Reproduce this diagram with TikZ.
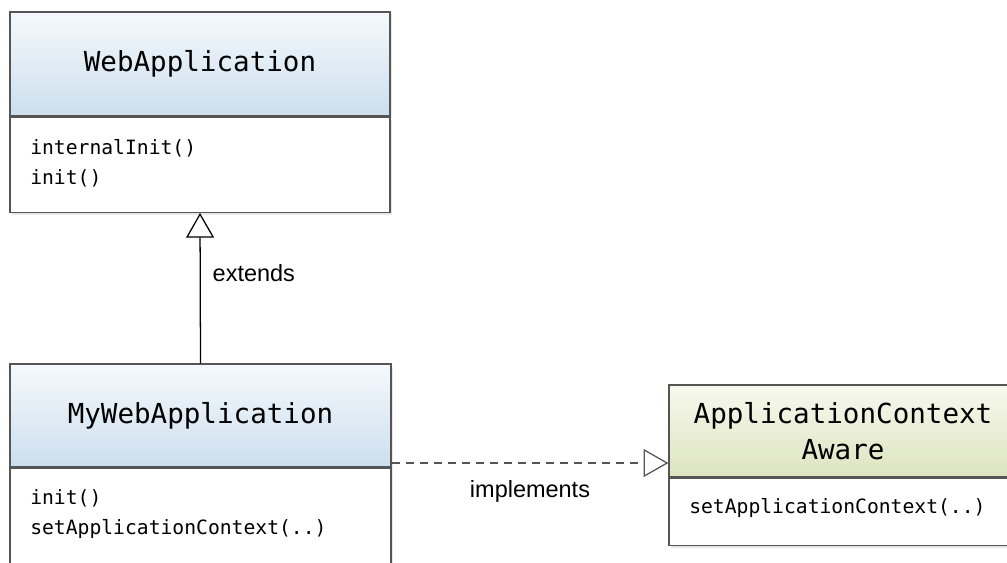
\documentclass[tikz,border=0pt]{standalone}
\usepackage{fontspec}
\setsansfont{Liberation Sans}
\setmonofont{DejaVu Sans Mono}
\usetikzlibrary{arrows.meta,shadows}

\definecolor{boxgray}{HTML}{555555}
\definecolor{bluetop}{HTML}{F5F9FD}
\definecolor{bluebot}{HTML}{CCDFED}
\definecolor{greentop}{HTML}{F7F9EE}
\definecolor{greenbot}{HTML}{DDE4BF}

\tikzset{
  classhead/.style={draw=boxgray, line width=0.9pt, inner sep=0pt, align=center,
    font=\ttfamily\fontsize{19.6}{26}\selectfont,
    drop shadow={opacity=0.18, shadow xshift=0.04cm, shadow yshift=-0.06cm}},
  classbody/.style={draw=boxgray, line width=0.9pt, fill=white, inner sep=0pt,
    drop shadow={opacity=0.18, shadow xshift=0.04cm, shadow yshift=-0.06cm}},
  methods/.style={anchor=west, align=left, inner sep=0pt,
    font=\ttfamily\fontsize{14}{21.3}\selectfont},
  relabel/.style={font=\sffamily\fontsize{16.7}{20}\selectfont},
  extends/.style={draw=black, line width=0.9pt,
    -{Triangle[open, length=0.62cm, width=0.7cm, line width=0.9pt]}},
  implements/.style={draw=boxgray, line width=0.9pt, dash pattern=on 0.2cm off 0.15cm,
    -{Triangle[open, length=0.62cm, width=0.7cm, line width=0.9pt, sep=0pt]}}
}

\begin{document}
\begin{tikzpicture}
  \useasboundingbox (0,0) rectangle (25.175,-14.05);
  \clip (0,0) rectangle (25.175,-14.05);

  % WebApplication class
  \node[classhead, top color=bluetop, bottom color=bluebot,
        minimum width=9.5cm, minimum height=2.6cm] (webhead) at (5,-1.6) {WebApplication};
  \node[classbody, minimum width=9.5cm, minimum height=2.375cm, anchor=north] (webbody) at (webhead.south) {};
  \node[methods] (webmeth) at (0.75,-4.075) {internalInit()\\init()};

  % MyWebApplication class (runs off the bottom)
  \node[classhead, top color=bluetop, bottom color=bluebot,
        minimum width=9.525cm, minimum height=2.575cm] (myhead) at (5.0125,-10.39) {MyWebApplication};
  \node[classbody, minimum width=9.525cm, minimum height=3.5cm, anchor=north] (mybody) at (myhead.south) {};
  \node[methods] (mymeth) at (0.75,-12.85) {init()\\setApplicationContext(..)};

  % ApplicationContextAware interface (runs off the right)
  \node[classhead, top color=greentop, bottom color=greenbot,
        minimum width=8.7cm, minimum height=2.3cm] (acahead) at (21.075,-10.775) {ApplicationContext\\Aware};
  \node[classbody, minimum width=8.7cm, minimum height=1.675cm, anchor=north] (acabody) at (acahead.south) {};
  \node[methods] (acameth) at (17.225,-12.7) {setApplicationContext(..)};

  % extends
  \draw[extends] (myhead.north) -- node[relabel, pos=0.6, right, xshift=0.18cm] (extlbl) {extends} (webbody.south);

  % implements
  \coordinate (implrow) at (0,-11.575);
  \draw[implements] (myhead.east |- implrow) -- node[relabel, midway, below, yshift=-0.3cm] (impllbl) {implements} (acahead.west |- implrow);
\end{tikzpicture}
\end{document}
